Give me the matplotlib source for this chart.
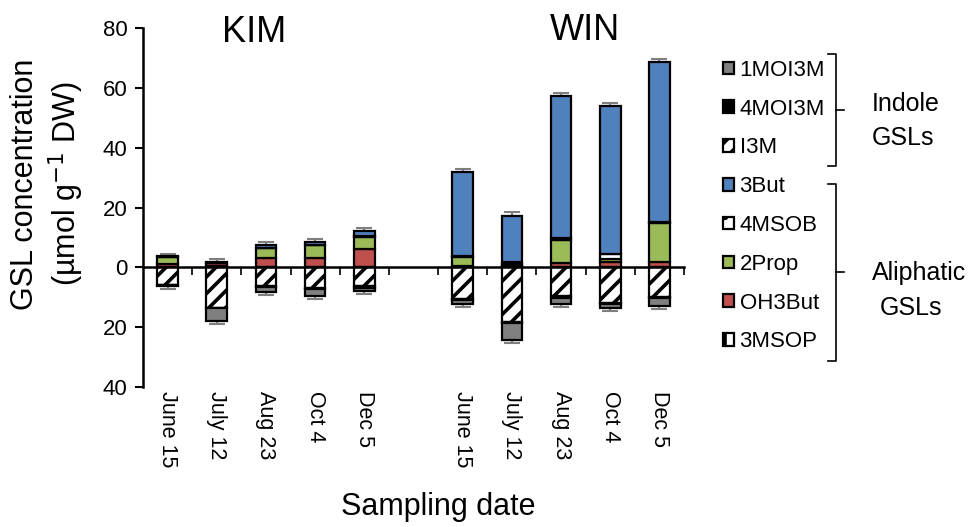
import matplotlib.pyplot as plt
import matplotlib.lines as mlines
import numpy as np

plt.rcParams['font.family'] = ['Liberation Sans', 'DejaVu Sans']
plt.rcParams['hatch.linewidth'] = 2.6

dates = ["June 15", "July 12", "Aug 23", "Oct 4", "Dec 5"]
sites = ["KIM", "WIN"]

# aliphatic (drawn upward), KIM then WIN
mso3p = [0.0, 0.3, 0.0, 0.0, 0.0, 0.1, 0.3, 0.1, 0.1, 0.1]
oh3but = [1.2, 1.0, 3.1, 3.0, 6.0, 0.4, 0.5, 1.5, 1.7, 1.8]
prop2 = [2.3, 0.3, 3.3, 4.3, 4.0, 3.0, 0.3, 7.6, 1.1, 12.9]
msob4 = [0.0, 0.0, 0.2, 0.2, 0.4, 0.4, 0.8, 0.5, 1.6, 0.2]
but3 = [0.3, 0.2, 0.9, 1.0, 1.7, 27.9, 15.4, 47.7, 49.4, 53.5]
err_up = [0.8, 1.1, 0.9, 0.9, 0.9, 1.0, 1.1, 1.0, 1.1, 1.0]

# indole (drawn downward)
i3m = [5.8, 13.5, 6.2, 6.8, 6.4, 10.6, 18.3, 9.6, 11.8, 9.9]
moi3m4 = [0.1, 0.2, 0.4, 0.4, 0.4, 0.4, 0.3, 0.5, 0.5, 0.5]
moi3m1 = [0.2, 4.3, 1.6, 2.4, 1.1, 1.1, 5.6, 2.0, 1.3, 2.4]
err_dn = [1.0, 1.0, 1.2, 0.9, 0.9, 1.2, 1.1, 1.2, 1.1, 1.1]

W, H = 971, 527
fig = plt.figure(figsize=(W / 100, H / 100), dpi=100)
ax = fig.add_axes([143 / W, 1 - 387 / H, (684 - 143) / W, (387 - 28) / H])

x = np.array([0, 1, 2, 3, 4, 6, 7, 8, 9, 10])
bw = 0.42
ek = dict(edgecolor='black', linewidth=1.6, width=bw, zorder=3)

pos_series = [
    ("3MSOP", mso3p, dict(color='white', hatch='|')),
    ("OH3But", oh3but, dict(color='#C0504D')),
    ("2Prop", prop2, dict(color='#9BBB59')),
    ("4MSOB", msob4, dict(color='white', hatch='.')),
    ("3But", but3, dict(color='#4F81BD')),
]
neg_series = [
    ("I3M", i3m, dict(color='white', hatch='//')),
    ("4MOI3M", moi3m4, dict(color='black')),
    ("1MOI3M", moi3m1, dict(color='#808080')),
]

handles = {}
bottom = np.zeros(len(x))
for name, vals, st in pos_series:
    v = np.array(vals)
    b = ax.bar(x, v, bottom=bottom, **ek, **st)
    handles[name] = b
    bottom = bottom + v
top_tot = bottom.copy()

bottom = np.zeros(len(x))
for name, vals, st in neg_series:
    v = -np.array(vals)
    b = ax.bar(x, v, bottom=bottom, **ek, **st)
    handles[name] = b
    bottom = bottom + v
bot_tot = bottom.copy()

ax.errorbar(x, top_tot, yerr=[np.zeros(len(x)), err_up], fmt='none',
            ecolor='#7f7f7f', elinewidth=1.5, capsize=5.5, capthick=1.5, zorder=2)
ax.errorbar(x, bot_tot, yerr=[err_dn, np.zeros(len(x))], fmt='none',
            ecolor='#7f7f7f', elinewidth=1.5, capsize=5.5, capthick=1.5, zorder=2)

ax.set_xlim(-0.5, 10.5)
ax.set_ylim(-40, 80)
yt = [-40, -20, 0, 20, 40, 60, 80]
ax.set_yticks(yt)
ax.set_yticklabels([str(abs(t)) for t in yt])
ax.tick_params(axis='y', labelsize=16, length=6, width=1.5, direction='out', pad=5)
for s in ['top', 'right']:
    ax.spines[s].set_visible(False)
ax.spines['left'].set_linewidth(1.8)
ax.spines['bottom'].set_position(('data', 0))
ax.spines['bottom'].set_linewidth(1.8)
ax.spines['bottom'].set_zorder(4)
ax.set_xticks(np.arange(0.5, 11, 1))
ax.tick_params(axis='x', length=6, width=1.2, direction='out', labelbottom=False)

labels = dates + dates
for xi, lab in zip(x, labels):
    ax.text(xi, -0.012, lab, transform=ax.get_xaxis_transform(), rotation=-90,
            ha='center', va='top', fontsize=15.5)

fig.text(254 / W, 1 - 33 / H, sites[0], ha='center', va='center', fontsize=26)
fig.text(585 / W, 1 - 30 / H, sites[1], ha='center', va='center', fontsize=26)
fig.text(438 / W, 1 - 507 / H, "Sampling date", ha='center', va='center', fontsize=22)
fig.text(25 / W, 1 - 184 / H, "GSL concentration", rotation=90,
         ha='center', va='center', fontsize=22)
fig.text(66 / W, 1 - 184 / H, "(µmol g$^{-1}$ DW)", rotation=90,
         ha='center', va='center', fontsize=22)

order = ["1MOI3M", "4MOI3M", "I3M", "3But", "4MSOB", "2Prop", "OH3But", "3MSOP"]
fig.legend([handles[n] for n in order], order, loc='upper left',
           bbox_to_anchor=(714 / W, 1 - 51 / H), frameon=False, fontsize=16,
           handlelength=0.5, handleheight=0.5, handletextpad=0.25,
           labelspacing=0.8, borderaxespad=0)


def bracket(xp, y0, y1, ym):
    pts = [(xp - 8, y0), (xp, y0), (xp, y1), (xp - 8, y1)]
    xs = [p[0] / W for p in pts]
    ys = [1 - p[1] / H for p in pts]
    fig.add_artist(mlines.Line2D(xs, ys, color='black', lw=1.2))
    fig.add_artist(mlines.Line2D([xp / W, (xp + 8) / W], [1 - ym / H] * 2,
                                 color='black', lw=1.2))


bracket(836, 54, 166, 110)
bracket(836, 184, 361, 272)
fig.text(872 / W, 1 - 104 / H, "Indole", ha='left', va='center', fontsize=18)
fig.text(872 / W, 1 - 138 / H, "GSLs", ha='left', va='center', fontsize=18)
fig.text(872 / W, 1 - 273 / H, "Aliphatic", ha='left', va='center', fontsize=18)
fig.text(880 / W, 1 - 308 / H, "GSLs", ha='left', va='center', fontsize=18)

plt.savefig('out.png', dpi=100)
plt.close()
